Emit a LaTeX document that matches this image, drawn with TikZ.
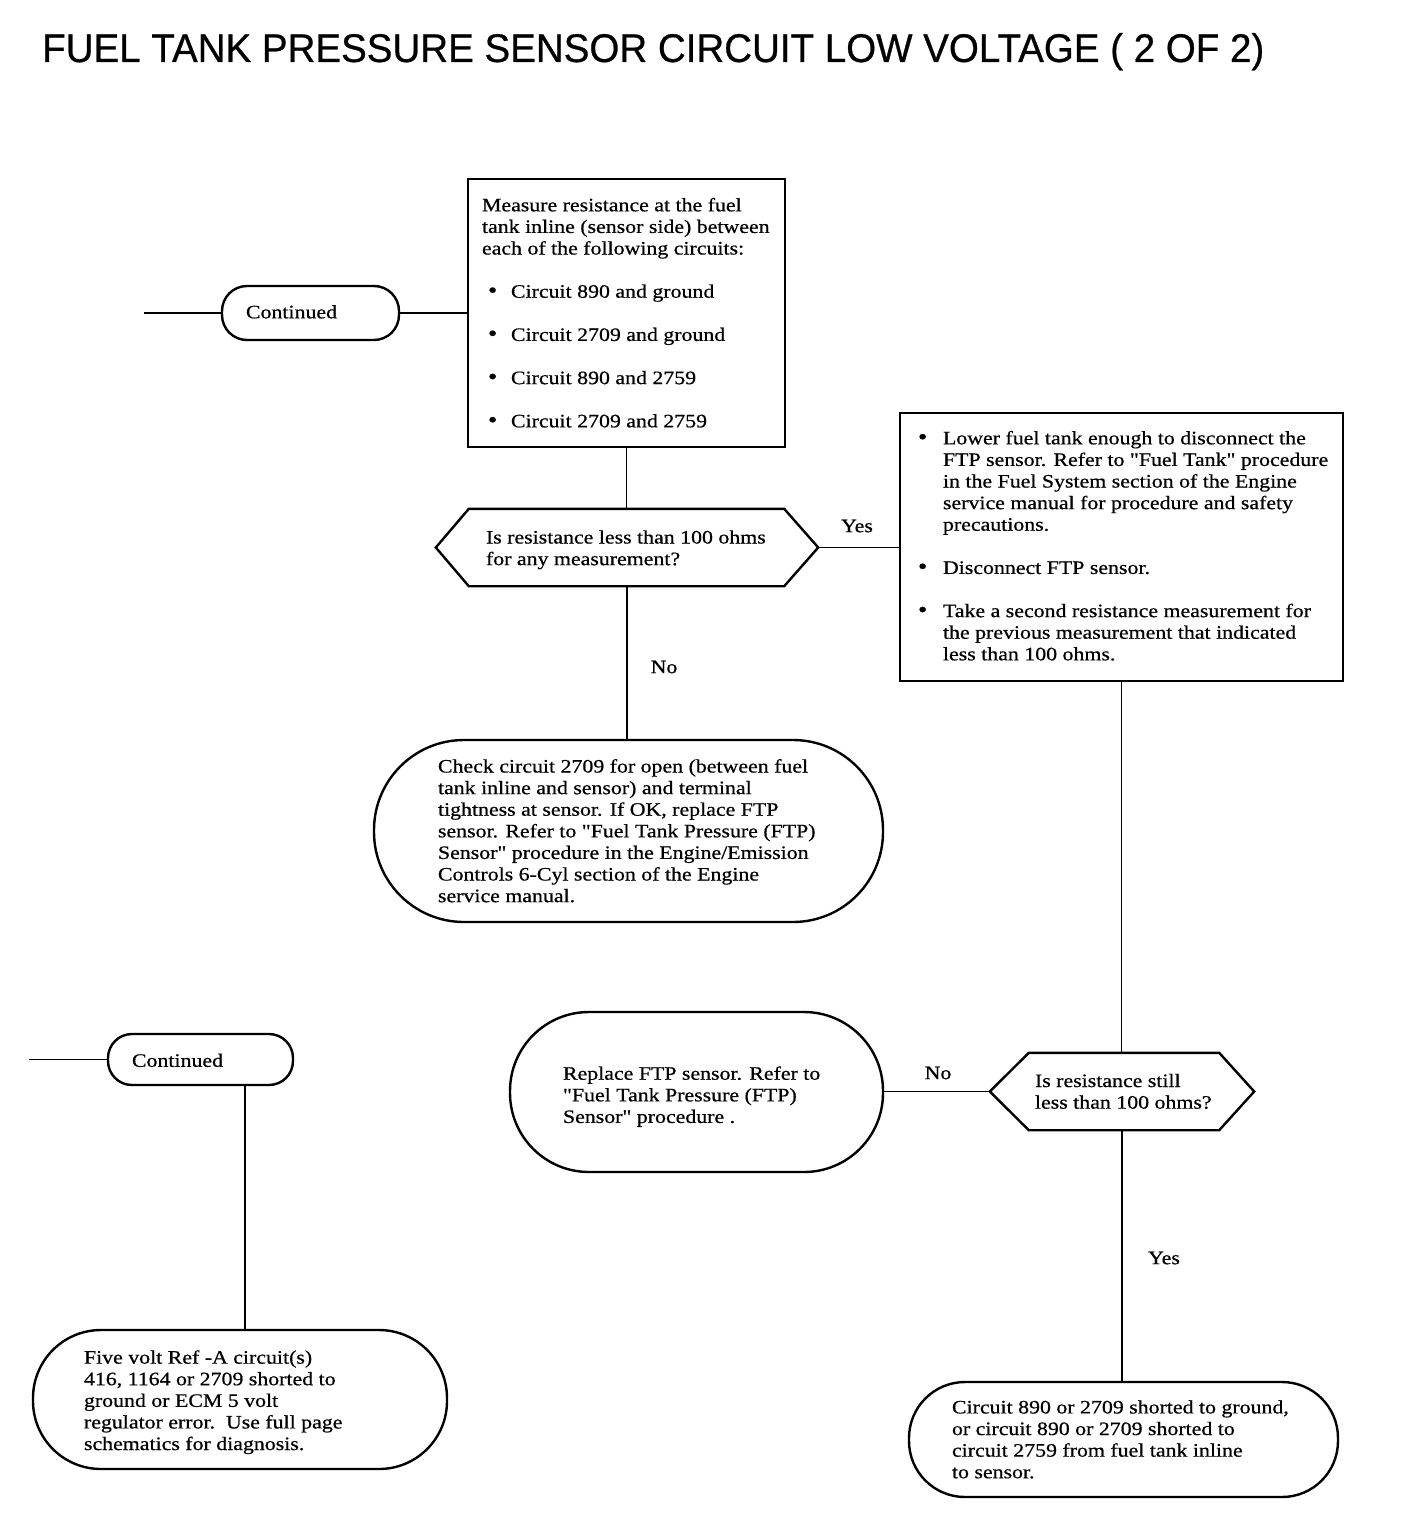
\documentclass[tikz,border=0pt]{standalone}
\usepackage{fontspec}
\setmainfont{Liberation Serif}[FakeStretch=1.15, FakeBold=0.6, Ligatures=TeXOff]
\newfontfamily\titlefont{Liberation Sans}[FakeStretch=0.963, FakeBold=0.6]
\newcommand\myblt[1][25pt]{\makebox[#1][l]{{\fontsize{23}{21.6}\selectfont\textbullet}}}
\newcommand\myind{\hspace*{25pt}}
\newcommand\mytxt[2]{\makebox[#1][l]{\begin{tabular}{@{}l@{}}#2\end{tabular}}}
\tikzset{
  shp/.style={draw, line width=2.4pt, inner sep=0pt, rectangle,
    font=\fontsize{19}{21.6}\selectfont},
  boxs/.style={shp},
  stad/.style={shp, rounded corners=#1},
  hexn/.style={shp, draw=none},
  hexline/.style={line width=2.4pt, line join=miter},
  conn/.style={line width=1.8pt},
  lbl/.style={inner sep=0pt, font=\fontsize{19}{21.6}\selectfont},
}
\begin{document}
\begin{tikzpicture}[x=1pt,y=-1pt]
\useasboundingbox[fill=white] (0,0) rectangle (1408,1520);

\node[anchor=base west, inner sep=0pt, font=\titlefont\fontsize{40}{48}\selectfont] (title) at (42,62)
  {FUEL TANK PRESSURE SENSOR CIRCUIT LOW VOLTAGE ( 2 OF 2)};

% top continued
\node[stad=25pt, minimum width=177pt, minimum height=54pt] (cont1) at (310.5,313)
  {\mytxt{129pt}{Continued\\[-2pt]}};

% box 1
\node[boxs, minimum width=317pt, minimum height=268pt] (box1) at (626.5,313)
  {\mytxt{289pt}{Measure resistance at the fuel\\
  tank inline (sensor side) between\\
  each of the following circuits:\\
  \\
  \hspace*{6pt}\myblt[23pt]Circuit 890 and ground\\
  \\
  \hspace*{6pt}\myblt[23pt]Circuit 2709 and ground\\
  \\
  \hspace*{6pt}\myblt[23pt]Circuit 890 and 2759\\
  \\
  \hspace*{6pt}\myblt[23pt]Circuit 2709 and 2759\\[-4pt]}};

% hexagon 1
\node[hexn, minimum width=380pt, minimum height=75pt] (h1) at (627,547.5)
  {\mytxt{282pt}{Is resistance less than 100 ohms\\
  for any measurement?\\[-5pt]}};
\draw[hexline] (h1.west) -- ([xshift=33pt]h1.north west) -- ([xshift=-34pt]h1.north east)
  -- (h1.east) -- ([xshift=-34pt]h1.south east) -- ([xshift=33pt]h1.south west) -- cycle;

% box 2
\node[boxs, minimum width=443pt, minimum height=268pt] (box2) at (1121.5,547)
  {\mytxt{407pt}{\myblt Lower fuel tank enough to disconnect the\\
  \myind FTP sensor. Refer to "Fuel Tank" procedure\\
  \myind in the Fuel System section of the Engine\\
  \myind service manual for procedure and safety\\
  \myind precautions.\\
  \\
  \myblt Disconnect FTP sensor.\\
  \\
  \myblt Take a second resistance measurement for\\
  \myind the previous measurement that indicated\\
  \myind less than 100 ohms.\\[-2pt]}};

% stadium 2
\node[stad=90pt, minimum width=509pt, minimum height=182pt] (s2) at (628.5,831)
  {\mytxt{381pt}{Check circuit 2709 for open (between fuel\\
  tank inline and sensor) and terminal\\
  tightness at sensor. If OK, replace FTP\\
  sensor. Refer to "Fuel Tank Pressure (FTP)\\
  Sensor" procedure in the Engine/Emission\\
  Controls 6-Cyl section of the Engine\\
  service manual.\\[-4pt]}};

% hexagon 2
\node[hexn, minimum width=262pt, minimum height=75pt] (h2) at (1122,1091.5)
  {\mytxt{174pt}{Is resistance still\\
  less than 100 ohms?\\[-4pt]}};
\draw[hexline] (h2.west) -- ([xshift=39pt]h2.north west) -- ([xshift=-35pt]h2.north east)
  -- (h2.east) -- ([xshift=-35pt]h2.south east) -- ([xshift=39pt]h2.south west) -- cycle;

% stadium 3
\node[stad=79pt, minimum width=373pt, minimum height=160pt] (s3) at (696.5,1092)
  {\mytxt{267pt}{Replace FTP sensor. Refer to\\
  "Fuel Tank Pressure (FTP)\\
  Sensor" procedure .\\[-10pt]}};

% stadium 4
\node[stad=56pt, minimum width=429pt, minimum height=115pt] (s4) at (1123.5,1439.5)
  {\mytxt{343pt}{Circuit 890 or 2709 shorted to ground,\\
  or circuit 890 or 2709 shorted to\\
  circuit 2759 from fuel tank inline\\
  to sensor.\\[-4pt]}};

% bottom continued
\node[stad=24pt, minimum width=185pt, minimum height=51pt] (cont2) at (200.5,1059.5)
  {\mytxt{137pt}{Continued\\[-6pt]}};

% stadium 5
\node[stad=68pt, minimum width=414pt, minimum height=139pt] (s5) at (240,1399.5)
  {\mytxt{312pt}{Five volt Ref -A circuit(s)\\
  416, 1164 or 2709 shorted to\\
  ground or ECM 5 volt\\
  regulator error.\ \ Use full page\\
  schematics for diagnosis.\\[-6pt]}};

% connectors
\coordinate (e1) at ([xshift=-77pt]cont1.west);
\draw[conn] (e1) -- (cont1.west);
\draw[conn] (cont1.east) -- (box1.west);
\draw[conn] (box1.south) -- (box1.south |- h1.north);
\draw[conn] (h1.east) -- (h1.east -| box2.west);
\draw[conn] (h1.south) -- (h1.south |- s2.north);
\draw[conn] (box2.south) -- (box2.south |- h2.north);
\draw[conn] (h2.west) -- (h2.west -| s3.east);
\draw[conn] (h2.south) -- (h2.south |- s4.north);
\coordinate (e2) at ([xshift=-78pt]cont2.west);
\draw[conn] (e2) -- (cont2.west);
\draw[conn] ([xshift=44.5pt]cont2.south) -- ([xshift=44.5pt]cont2.south |- s5.north);

% labels
\node[lbl] (yes1) at (857,526) {Yes};
\node[lbl] (no1) at (664,667) {No};
\node[lbl] (no2) at (938,1073) {No};
\node[lbl] (yes2) at (1164,1258) {Yes};
\end{tikzpicture}
\end{document}
